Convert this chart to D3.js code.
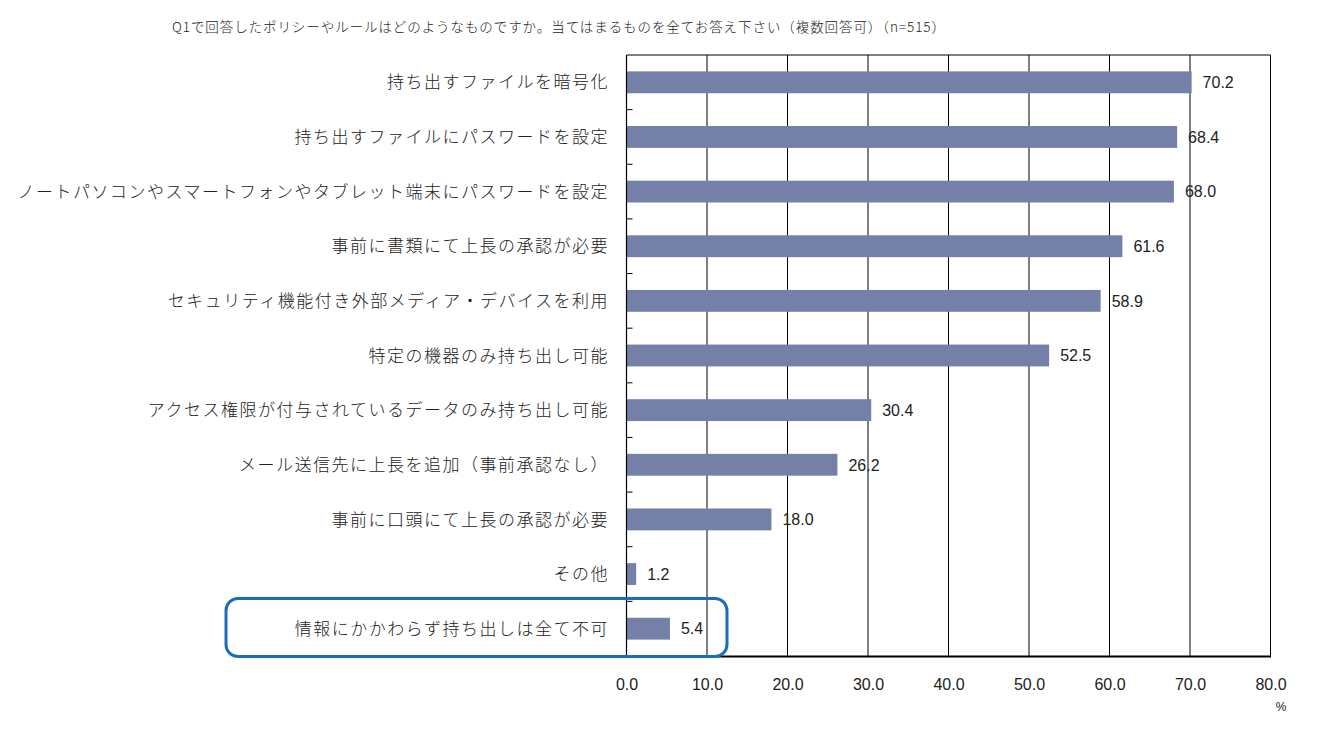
<!DOCTYPE html>
<html><head><meta charset="utf-8">
<script src="https://cdn.jsdelivr.net/npm/d3@7/dist/d3.min.js"></script>
<style>body{margin:0;background:#fff;} text{font-family:"Noto Sans CJK JP","Noto Sans",sans-serif;font-weight:300;}</style>
</head><body><svg id="c" width="1318" height="733"></svg>
<script>
const titleText = "Q1で回答したポリシーやルールはどのようなものですか。当てはまるものを全てお答え下さい（複数回答可）（n=515）";
const categories = ["持ち出すファイルを暗号化","持ち出すファイルにパスワードを設定","ノートパソコンやスマートフォンやタブレット端末にパスワードを設定","事前に書類にて上長の承認が必要","セキュリティ機能付き外部メディア・デバイスを利用","特定の機器のみ持ち出し可能","アクセス権限が付与されているデータのみ持ち出し可能","メール送信先に上長を追加（事前承認なし）","事前に口頭にて上長の承認が必要","その他","情報にかかわらず持ち出しは全て不可"];
const values = [70.2,68.4,68.0,61.6,58.9,52.5,30.4,26.2,18.0,1.2,5.4];
const xTicks = [0,10,20,30,40,50,60,70,80];
const unitLabel = "%";

const svg = d3.select("#c");
const m = {l:626.5, r:1270.5, t:55, b:656};
const x = d3.scaleLinear().domain([0,80]).range([m.l, m.r]);
const y = d3.scaleBand().domain(categories).range([m.t, m.b]).paddingInner(0.6).paddingOuter(0.3);
const numFont = "'Liberation Sans',Arial,sans-serif";

svg.append("text").attr("x",172).attr("y",32).attr("font-size",13.5).attr("fill","#222")
  .attr("textLength",773).attr("lengthAdjust","spacing").text(titleText);

// grid lines
svg.append("g").selectAll("line").data(xTicks.filter(d=>d>0)).join("line")
  .attr("x1",d=>x(d)).attr("x2",d=>x(d)).attr("y1",m.t).attr("y2",m.b)
  .attr("stroke","#000").attr("stroke-width",1);
svg.append("line").attr("x1",m.l).attr("x2",m.r).attr("y1",m.t).attr("y2",m.t).attr("stroke","#000").attr("stroke-width",1.2);

// bars
svg.append("g").selectAll("rect").data(values).join("rect")
  .attr("x",x(0)).attr("y",(d,i)=>y(categories[i]))
  .attr("width",d=>x(d)-x(0)).attr("height",y.bandwidth())
  .attr("fill","#7480A8");

// value labels
svg.append("g").selectAll("text").data(values).join("text")
  .attr("x",d=>x(d)+11).attr("y",(d,i)=>y(categories[i])+y.bandwidth()/2)
  .attr("dy","0.36em").attr("font-size",16).attr("fill","#222")
  .style("font-family",numFont).style("font-weight",400)
  .text(d=>d.toFixed(1));

// left axis with inward ticks at boundaries
const step = (m.b-m.t)/categories.length;
svg.append("line").attr("x1",m.l).attr("x2",m.l).attr("y1",m.t).attr("y2",m.b).attr("stroke","#000").attr("stroke-width",1.2);
svg.append("g").selectAll("line").data(d3.range(1,categories.length)).join("line")
  .attr("x1",m.l).attr("x2",m.l+6).attr("y1",d=>m.t+d*step).attr("y2",d=>m.t+d*step)
  .attr("stroke","#000");

// category labels
svg.append("g").selectAll("text").data(categories).join("text")
  .attr("x",609).attr("y",d=>y(d)+y.bandwidth()/2).attr("dy","0.36em")
  .attr("text-anchor","end").attr("font-size",17).attr("letter-spacing","1.5px").attr("fill","#222")
  .text(d=>d);

// bottom axis
const xa = svg.append("g").attr("transform",`translate(0,${m.b})`)
  .call(d3.axisBottom(x).tickValues(xTicks).tickFormat(d3.format(".1f")).tickSize(0).tickPadding(23));
xa.select(".domain").attr("stroke","#000").attr("stroke-width",2.2);
xa.selectAll("text").attr("font-size",16).attr("fill","#222").style("font-family",numFont).style("font-weight",400);
svg.append("text").attr("x",1281).attr("y",711).attr("text-anchor","middle").attr("font-size",12).attr("fill","#222").style("font-family",numFont).text(unitLabel);

// highlight box
svg.append("rect").attr("x",226).attr("y",598.5).attr("width",501).attr("height",58).attr("rx",12)
  .attr("fill","none").attr("stroke","#1b6db5").attr("stroke-width",3);
</script></body></html>
